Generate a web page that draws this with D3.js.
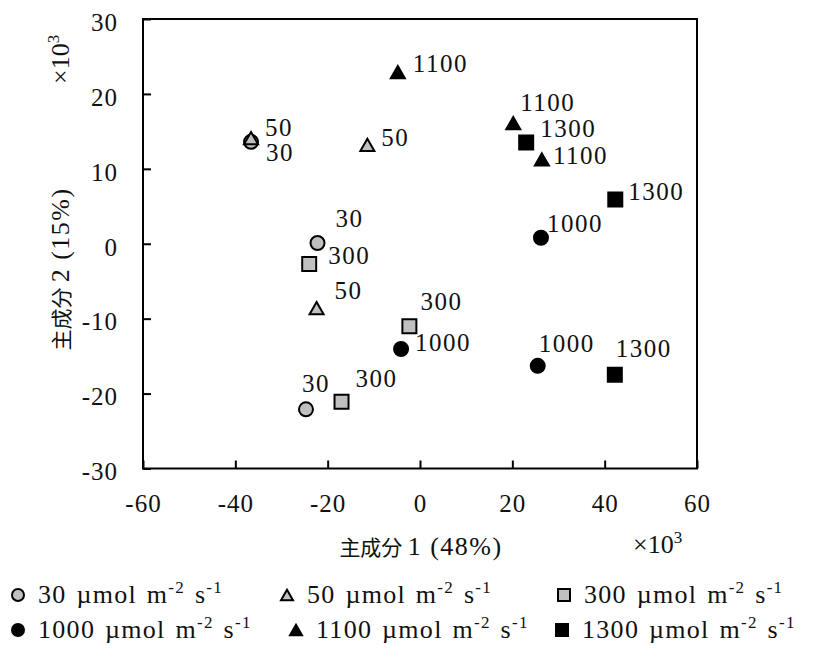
<!DOCTYPE html>
<html>
<head>
<meta charset="utf-8">
<script src="https://cdn.jsdelivr.net/npm/d3@7"></script>
<style>
  body { margin: 0; background: #fff; }
  text { font-family: "Liberation Serif", "Noto Sans CJK JP", serif; fill: #111; }
</style>
</head>
<body>
<div id="chart"></div>
<script>
// light levels (µmol m-2 s-1) and PCA scores (x10^3)
const levels = ["30", "50", "300", "1000", "1100", "1300"];
const pointLevel = ["50", "30", "50", "1100", "1100", "1300", "1100", "1300", "1000",
                    "30", "300", "50", "300", "1000", "30", "300", "1000", "1300"];
const pc1 = [-36.6, -36.6, -11.4, -4.8, 20.2, 23.0, 26.4, 42.3, 26.2,
             -22.2, -24.0, -22.4, -2.3, -4.1, -24.7, -17.0, 25.5, 42.2];
const pc2 = [14.1, 13.6, 13.2, 22.9, 16.1, 13.5, 11.25, 5.9, 0.8,
             0.1, -2.7, -8.6, -11.0, -14.05, -22.1, -21.1, -16.3, -17.5];
const xTicks = [-60, -40, -20, 0, 20, 40, 60];
const yTicks = [-30, -20, -10, 0, 10, 20, 30];

// label offsets from marker centre (layout only)
const labelOffset = [[14, -2], [15, 19], [14, 1], [15, 0], [7, -12], [14, -6], [11, 4.5], [13, 0], [6, -6],
                     [18, -16], [19, 0], [18, -9.5], [11, -16], [14, 2], [-4, -17], [14, -15], [1, -14], [1, -18]];

const shapeOf = { "30": "circle", "50": "triangle", "300": "square",
                  "1000": "circle", "1100": "triangle", "1300": "square" };
const fillOf = { "30": "#c0c0c0", "50": "#c0c0c0", "300": "#c0c0c0",
                 "1000": "#000", "1100": "#000", "1300": "#000" };

const width = 814, height = 655;
const fs = 25;
const svg = d3.select("#chart").append("svg")
  .attr("width", width).attr("height", height);

const x = d3.scaleLinear().domain([-60, 60]).range([143, 697]);
const y = d3.scaleLinear().domain([-30, 30]).range([468.5, 19]);

function markerPath(shape, s) {
  const h = s / 2;
  if (shape === "circle") return d3.symbol(d3.symbolCircle, Math.PI * h * h)();
  if (shape === "square") return `M${-h},${-h}H${h}V${h}H${-h}Z`;
  const th = s * 0.87 / 2;
  return `M0,${-th}L${h},${th}L${-h},${th}Z`;
}

// axes
const xAxis = d3.axisBottom(x).tickValues(xTicks).tickSizeInner(-8).tickSizeOuter(0)
  .tickPadding(28).tickFormat(d => String(d));
const yAxis = d3.axisLeft(y).tickValues(yTicks).tickSizeInner(-8).tickSizeOuter(0)
  .tickPadding(25).tickFormat(d => String(d));

const gx = svg.append("g").attr("transform", `translate(0,${y(-30)})`).call(xAxis);
const gy = svg.append("g").attr("transform", `translate(${x(-60)},0)`).call(yAxis);
[gx, gy].forEach(g => {
  g.attr("font-family", null);
  g.select(".domain").remove();
  g.selectAll(".tick line").attr("stroke", "#000").attr("stroke-width", 2);
  g.selectAll(".tick text").attr("font-size", fs).attr("fill", "#111")
    .attr("letter-spacing", 1);
});
gy.selectAll(".tick text").attr("dy", "0.45em");
gx.selectAll(".tick text").attr("dy", "0.62em");

svg.append("rect")
  .attr("x", x(-60)).attr("y", y(30))
  .attr("width", x(60) - x(-60)).attr("height", y(-30) - y(30))
  .attr("fill", "none").attr("stroke", "#000").attr("stroke-width", 2);

// axis titles: CJK part and latin part sized separately
function axisTitle(sel, num) {
  sel.append("tspan").attr("font-size", 21).attr("letter-spacing", 0).text("主成分 ");
  sel.append("tspan").attr("font-size", 26).attr("letter-spacing", 1.5).text(num);
}
axisTitle(svg.append("text").attr("x", 421).attr("y", 555).attr("text-anchor", "middle"), "1 (48%)");
axisTitle(svg.append("text").attr("transform", "translate(69,269) rotate(-90)")
  .attr("text-anchor", "middle"), "2 (15%)");

const xs = svg.append("text").attr("x", 633).attr("y", 553).attr("font-size", 26);
xs.append("tspan").text("×10");
xs.append("tspan").attr("font-size", 17).attr("dy", -10).text("3");
const ys = svg.append("text").attr("transform", "translate(69,84) rotate(-90)")
  .attr("font-size", 26);
ys.append("tspan").text("×10");
ys.append("tspan").attr("font-size", 17).attr("dy", -10).text("3");

// points, drawn in series order so later series sit on top
const pts = pc1.map((v, i) => ({ x: v, y: pc2[i], level: pointLevel[i], off: labelOffset[i] }))
  .sort((a, b) => levels.indexOf(a.level) - levels.indexOf(b.level));

svg.append("g").selectAll("path").data(pts).join("path")
  .attr("transform", d => `translate(${x(d.x)},${y(d.y)})`)
  .attr("d", d => markerPath(shapeOf[d.level], 14))
  .attr("fill", d => fillOf[d.level])
  .attr("stroke", "#000").attr("stroke-width", 2);

svg.append("g").selectAll("text").data(pts).join("text")
  .attr("x", d => x(d.x) + d.off[0])
  .attr("y", d => y(d.y) + d.off[1])
  .attr("font-size", fs).attr("letter-spacing", 1.5)
  .text(d => d.level);

// legend
const legendPos = [[18, 595], [287, 595], [564, 595], [18, 630], [296, 630], [562, 630]];
const leg = svg.append("g").selectAll("g").data(levels).join("g")
  .attr("transform", (d, i) => `translate(${legendPos[i][0]},${legendPos[i][1]})`);
leg.append("path")
  .attr("d", d => markerPath(shapeOf[d], 12))
  .attr("fill", d => fillOf[d]).attr("stroke", "#000").attr("stroke-width", 2);
const lt = leg.append("text").attr("x", 20).attr("y", 8).attr("font-size", 26)
  .attr("letter-spacing", 1.3).attr("word-spacing", 2);
lt.append("tspan").text(d => d + " µmol m");
lt.append("tspan").attr("font-size", 17).attr("dy", -10).text("-2");
lt.append("tspan").attr("dy", 10).text(" s");
lt.append("tspan").attr("font-size", 17).attr("dy", -10).text("-1");
</script>
</body>
</html>
